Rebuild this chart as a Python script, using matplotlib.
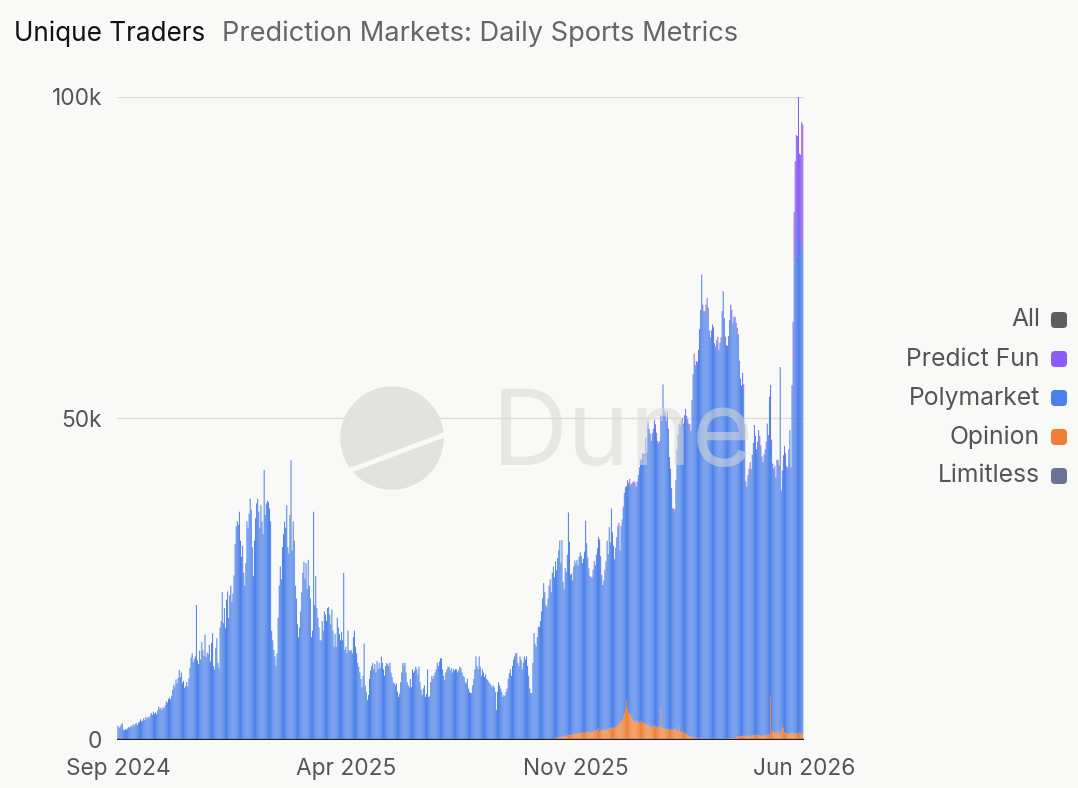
import pandas as pd
import matplotlib
matplotlib.use("Agg")
import matplotlib.pyplot as plt
import matplotlib.dates as mdates
from matplotlib.patches import Circle, FancyBboxPatch
from matplotlib.lines import Line2D

plt.rcParams['font.family'] = ['Inter', 'DejaVu Sans']

START = "2024-09-01"

# daily unique traders in thousands, one row per week (Sun..Sat)
polymarket_k = [
    2.2, 1.9, 2.0, 2.4, 2.6, 1.6, 1.5,
    1.7, 1.6, 1.8, 2.0, 1.9, 2.2, 2.1,
    2.4, 2.2, 2.5, 2.6, 2.3, 2.7, 2.8,
    3.2, 2.9, 3.0, 3.4, 3.1, 3.6, 3.3,
    3.6, 3.4, 3.8, 4.2, 3.9, 4.4, 4.1,
    4.3, 4.0, 4.6, 5.2, 4.8, 5.0, 4.7,
    5.1, 4.9, 5.4, 6.0, 5.8, 6.4, 6.6,
    6.3, 6.9, 7.8, 8.6, 8.2, 9.4, 8.8,
    9.6, 10.9, 9.8, 10.5, 8.9, 9.2, 8.1,
    8.4, 9.0, 8.3, 9.6, 11.2, 12.8, 13.5,
    12.1, 12.6, 13.0, 21.0, 12.4, 11.8, 13.9,
    12.5, 15.2, 14.0, 13.1, 16.4, 12.9, 13.6,
    13.4, 14.8, 12.2, 15.1, 16.6, 11.5, 11.0,
    14.3, 15.8, 12.0, 11.2, 17.5, 18.5, 23.0,
    18.2, 20.5, 17.4, 21.8, 23.1, 19.0, 22.5,
    24.0, 21.5, 22.8, 25.6, 30.5, 33.2, 34.0,
    33.5, 35.5, 31.0, 28.5, 30.2, 26.0, 24.0,
    27.5, 34.0, 33.0, 35.2, 37.5, 35.8, 30.0,
    25.5, 31.0, 34.5, 36.8, 37.5, 35.5, 33.0,
    36.5, 34.0, 32.0, 42.0, 35.0, 36.8, 37.2,
    37.0, 36.0, 34.0, 17.0, 15.5, 14.0, 13.0,
    11.5, 13.5, 19.0, 24.0, 27.0, 25.0, 30.0,
    32.0, 34.0, 33.0, 36.5, 30.0, 29.0, 35.0,
    43.5, 29.5, 34.0, 31.0, 24.0, 22.0, 18.0,
    16.0, 17.5, 20.0, 23.0, 26.0, 27.7, 25.0,
    27.5, 23.5, 28.0, 24.0, 22.0, 16.0, 17.0,
    35.5, 21.0, 25.5, 20.5, 19.0, 17.5, 15.5,
    15.5, 18.5, 17.0, 20.0, 19.5, 18.5, 20.5,
    20.7, 19.5, 18.0, 20.3, 17.0, 14.5, 16.5,
    14.5, 19.0, 17.5, 16.5, 15.5, 16.8, 15.5,
    26.0, 14.0, 14.5, 13.5, 17.0, 14.0, 13.8,
    14.0, 13.5, 16.0, 17.0, 14.5, 13.5, 12.0,
    11.4, 10.5, 9.5, 8.2, 10.0, 15.0, 8.5,
    7.5, 6.2, 7.0, 9.5, 10.8, 11.5, 12.0,
    11.0, 11.8, 10.5, 12.3, 11.0, 12.0, 11.2,
    13.0, 12.0, 11.0, 10.0, 11.5, 12.0, 11.8,
    11.5, 12.0, 10.5, 9.8, 9.0, 8.8, 8.5,
    8.8, 7.5, 6.7, 7.2, 9.0, 10.5, 12.0,
    11.5, 12.0, 10.5, 9.0, 8.5, 8.2, 9.5,
    8.2, 11.0, 10.5, 10.8, 11.4, 11.0, 10.2,
    11.4, 9.0, 7.8, 7.0, 8.0, 8.5, 6.7,
    7.2, 11.0, 6.7, 6.8, 9.0, 10.0, 9.5,
    10.0, 10.5, 11.0, 12.0, 11.5, 12.2, 12.7,
    12.7, 11.0, 10.0, 9.3, 10.5, 11.0, 11.4,
    11.4, 10.8, 11.2, 10.5, 11.0, 10.8, 11.0,
    11.0, 10.5, 10.8, 11.4, 11.2, 10.5, 10.0,
    9.8, 9.0, 8.8, 9.5, 8.0, 7.5, 7.3,
    7.3, 8.5, 9.5, 11.0, 13.0, 11.5, 11.0,
    13.0, 11.4, 10.0, 11.0, 10.5, 9.8, 10.2,
    9.5, 9.3, 9.0, 8.8, 8.5, 8.2, 8.5,
    8.2, 7.5, 4.7, 7.5, 9.0, 8.5, 8.0,
    7.5, 6.7, 7.0, 6.8, 7.5, 8.0, 9.5,
    10.4, 11.0, 10.0, 11.5, 12.5, 13.0, 13.5,
    13.5, 12.0, 11.5, 13.0, 12.5, 11.0, 12.0,
    13.0, 12.5, 13.0, 11.5, 10.0, 8.0, 7.3,
    7.3, 12.0, 16.6, 15.0, 14.5, 16.0, 17.6,
    17.6, 18.5, 20.0, 22.0, 24.4, 23.0, 21.0,
    20.7, 22.0, 24.0, 25.0, 23.0, 26.0, 27.0,
    25.0, 27.5, 26.0, 28.0, 29.0, 30.6, 27.0,
    30.6, 24.0, 23.0, 26.0, 25.5, 28.0, 34.7,
    30.0, 25.0, 25.0, 24.0, 26.0, 27.0, 26.5,
    27.0, 26.0, 27.5, 28.0, 27.5, 26.5, 27.0,
    28.0, 32.7, 29.0, 27.0, 25.0, 24.0, 23.8,
    23.8, 25.0, 26.0, 25.5, 27.0, 28.0, 29.5,
    29.5, 27.0, 24.0, 22.2, 23.0, 24.5, 26.0,
    29.0, 27.0, 31.0, 28.5, 34.0, 30.0, 28.0,
    26.0, 27.5, 29.0, 30.5, 31.0, 26.4, 30.0,
    31.0, 32.5, 34.0, 34.0, 33.0, 35.0, 35.5,
    36.0, 35.5, 36.0, 36.5, 37.0, 36.8, 36.0,
    36.8, 38.0, 39.5, 40.5, 40.0, 41.5, 41.5,
    41.5, 44.0, 42.0, 46.5, 45.5, 45.0, 44.0,
    45.0, 46.0, 47.0, 46.5, 45.5, 44.0, 43.5,
    44.0, 45.0, 47.0, 53.0, 49.0, 48.5, 47.5,
    49.0, 46.0, 42.0, 40.0, 37.0, 34.0, 33.7,
    33.7, 38.0, 43.0, 45.6, 46.5, 47.0, 48.0,
    48.0, 47.5, 49.0, 49.8, 49.0, 48.5, 48.0,
    48.0, 47.0, 52.0, 56.0, 59.0, 57.5, 58.0,
    58.0, 60.0, 63.0, 66.0, 71.5, 67.0, 66.0,
    66.0, 67.0, 68.0, 66.5, 63.0, 62.0, 63.0,
    64.0, 63.5, 61.0, 60.6, 61.5, 62.0, 60.0,
    61.0, 62.0, 66.0, 69.0, 65.0, 62.0, 60.6,
    60.6, 62.0, 64.5, 67.0, 66.0, 64.0, 65.0,
    65.0, 64.0, 63.0, 62.0, 58.0, 55.0, 54.0,
    56.0, 54.0, 48.0, 39.0, 38.0, 40.0, 41.0,
    42.0, 41.0, 43.0, 45.0, 47.7, 46.0, 44.0,
    45.0, 47.0, 46.0, 44.5, 43.0, 42.0, 43.0,
    44.0, 45.0, 48.0, 46.0, 52.0, 48.0, 45.0,
    41.0, 40.5, 41.0, 39.0, 42.0, 41.5, 41.0,
    56.5, 36.8, 39.0, 42.0, 44.0, 43.0, 41.0,
    41.0, 44.0, 46.7, 41.0, 52.0, 58.0, 73.0,
    74.0, 76.0, 77.0, 80.0, 74.0, 76.0, 77.0,
    75.0,
]

# Opinion starts trading in late Oct 2025 (first 406 days are zero)
opinion_k = [0.0] * 406 + [
    0.3, 0.3, 0.4, 0.3, 0.5, 0.4, 0.5,
    0.5, 0.6, 0.5, 0.7, 0.6, 0.8, 0.7,
    0.8, 0.7, 0.9, 0.8, 1.0, 0.9, 0.9,
    1.0, 1.1, 1.0, 1.2, 1.1, 1.0, 1.2,
    1.1, 1.2, 1.3, 1.2, 1.4, 1.3, 1.2,
    1.2, 1.3, 1.5, 1.4, 1.6, 1.5, 1.8,
    1.4, 1.3, 1.5, 1.6, 1.5, 1.7, 1.6,
    1.7, 1.6, 1.8, 1.9, 1.8, 2.0, 1.9,
    1.8, 2.0, 2.2, 2.5, 2.4, 2.8, 3.0,
    3.0, 3.5, 4.0, 5.0, 6.2, 5.0, 4.2,
    4.2, 3.9, 3.5, 3.2, 3.0, 2.8, 3.0,
    3.0, 2.8, 2.6, 2.8, 3.0, 2.7, 2.6,
    2.6, 2.5, 2.3, 2.6, 2.4, 2.2, 2.0,
    2.2, 2.0, 2.3, 2.1, 1.9, 2.0, 2.2,
    2.0, 5.0, 2.2, 1.8, 1.7, 1.9, 1.6,
    1.6, 1.8, 1.5, 1.7, 1.6, 1.5, 1.8,
    1.6, 1.9, 1.5, 1.4, 2.2, 1.3, 1.2,
    1.5, 1.2, 1.0, 1.1, 0.9, 0.8, 0.7,
    0.6, 0.5, 0.4, 0.4, 0.5, 0.3, 0.3,
    0.3, 0.2, 0.3, 0.4, 0.3, 0.2, 0.2,
    0.2, 0.1, 0.2, 0.1, 0.2, 0.1, 0.1,
    0.1, 0.2, 0.1, 0.1, 0.2, 0.1, 0.2,
    0.2, 0.1, 0.2, 0.2, 0.1, 0.2, 0.2,
    0.2, 0.2, 0.3, 0.2, 0.3, 0.3, 0.3,
    0.3, 0.4, 0.5, 0.6, 0.5, 0.6, 0.6,
    0.6, 0.7, 0.6, 0.7, 0.8, 0.7, 0.6,
    0.7, 0.6, 0.8, 0.7, 0.7, 0.8, 0.7,
    0.8, 0.7, 0.8, 0.7, 0.6, 0.7, 0.8,
    0.7, 0.8, 0.7, 0.9, 0.8, 6.7, 1.2,
    1.5, 1.2, 1.0, 1.3, 1.1, 1.4, 1.2,
    1.0, 1.5, 2.3, 1.8, 1.2, 1.0, 1.1,
    1.0, 0.9, 1.1, 1.0, 1.2, 1.0, 1.1,
    1.0, 1.1, 0.9, 1.0, 1.2, 1.0, 1.1,
    1.0,
]

# Predict Fun: thin sliver from Nov 2025 (first 434 days are zero), big jump in the last week
predict_fun_k = [0.0] * 434 + [
    0.2, 0.2, 0.3, 0.2, 0.3, 0.2, 0.3,
    0.3, 0.2, 0.3, 0.3, 0.2, 0.3, 0.3,
    0.3, 0.3, 0.2, 0.3, 0.3, 0.3, 0.2,
    0.3, 0.3, 0.3, 0.3, 0.2, 0.3, 0.3,
    0.3, 0.4, 0.3, 0.3, 0.4, 0.3, 0.3,
    0.3, 0.3, 0.4, 0.3, 0.3, 0.4, 0.3,
    0.4, 0.3, 0.4, 0.4, 0.3, 0.4, 0.4,
    0.4, 0.4, 0.3, 0.4, 0.5, 0.4, 0.4,
    0.4, 0.5, 0.4, 0.4, 0.5, 0.4, 0.5,
    0.5, 0.4, 0.5, 0.5, 0.4, 0.5, 0.5,
    0.5, 0.5, 0.4, 0.5, 0.6, 0.5, 0.5,
    0.5, 0.6, 0.5, 0.5, 0.6, 0.5, 0.5,
    0.5, 0.5, 0.6, 0.5, 0.5, 0.6, 0.5,
    0.6, 0.5, 0.5, 0.6, 0.5, 0.6, 0.5,
    0.5, 0.6, 0.5, 0.5, 0.6, 0.5, 0.6,
    0.5, 0.5, 0.6, 0.5, 0.6, 0.5, 0.5,
    0.5, 0.6, 0.5, 0.6, 0.5, 0.5, 0.6,
    0.5, 0.5, 0.6, 0.5, 0.5, 0.6, 0.5,
    0.6, 0.5, 0.5, 0.6, 0.5, 0.5, 0.6,
    0.5, 0.6, 0.5, 0.5, 0.6, 0.5, 0.5,
    0.5, 0.5, 0.6, 0.5, 0.5, 0.6, 0.5,
    0.5, 0.6, 0.5, 0.5, 0.6, 0.5, 0.6,
    0.5, 0.5, 0.6, 0.5, 0.6, 0.5, 0.5,
    0.6, 0.5, 0.5, 0.6, 0.5, 0.5, 0.6,
    0.5, 0.6, 0.5, 0.5, 0.6, 0.5, 0.5,
    0.5, 0.5, 0.6, 0.5, 0.5, 0.6, 0.5,
    0.5, 0.5, 0.6, 0.5, 0.5, 0.6, 0.5,
    0.3, 0.3, 0.4, 0.4, 2.0, 6.0, 8.0,
    15.0, 17.0, 16.0, 20.0, 16.0, 14.0, 18.0,
    19.7,
]

limitless_k = [0.0] * len(polymarket_k)

series = ["Limitless", "Opinion", "Polymarket", "Predict Fun"]
values = [limitless_k, opinion_k, polymarket_k, predict_fun_k]
colors = {"All": "#5e5e5e", "Predict Fun": "#8b5cf6", "Polymarket": "#4a80ea",
          "Opinion": "#f07f35", "Limitless": "#6b7394"}
legend_order = ["All", "Predict Fun", "Polymarket", "Opinion", "Limitless"]

dates = pd.date_range(START, periods=len(polymarket_k), freq="D")
df = pd.DataFrame({name: [v * 1000 for v in vals] for name, vals in zip(series, values)}, index=dates)

BG = "#f9f9f7"
W, H = 1078, 788
fig = plt.figure(figsize=(W / 100, H / 100), dpi=100, facecolor=BG)
ax = fig.add_axes([117.4 / W, 48 / H, 687 / W, 643 / H], facecolor=BG)

x = mdates.date2num(df.index.to_pydatetime())
bottom = [0.0] * len(df)
for name in series:
    bars = ax.bar(x, df[name].values, width=0.93, bottom=bottom, color=colors[name], linewidth=0, zorder=2)
    for b in bars:
        b.set_snap(False)
    bottom = [b + v for b, v in zip(bottom, df[name].values)]

ax.set_xlim(mdates.date2num(pd.Timestamp(START)) - 0.5, mdates.date2num(pd.Timestamp("2026-06-01")) + 0.5)
ax.set_ylim(0, 100000)

tick_dates = ["2024-09-01", "2025-04-01", "2025-11-01", "2026-06-01"]
ax.set_xticks([mdates.date2num(pd.Timestamp(d)) for d in tick_dates])
ax.set_xticklabels(["Sep 2024", "Apr 2025", "Nov 2025", "Jun 2026"])
ax.set_yticks([0, 50000, 100000])
ax.set_yticklabels(["0", "50k", "100k"])
ax.tick_params(axis="both", length=0, labelsize=16.3, colors="#555555")
ax.tick_params(axis="x", pad=13)
ax.tick_params(axis="y", pad=11)

for s in ax.spines.values():
    s.set_visible(False)
ax.yaxis.grid(True, color="#dddddb", lw=1)
ax.set_axisbelow(True)
ax.axhline(0, color="#1d1d2b", lw=1.6, zorder=4)

# title
fig.text(14 / W, 1 - 34 / H, "Unique Traders", fontsize=18.8, color="#111111", va="center")
fig.text(222 / W, 1 - 34 / H, "Prediction Markets: Daily Sports Metrics", fontsize=19.6, color="#666666", va="center")

# watermark
fig.add_artist(Circle((3.92, 3.50), 0.51, transform=fig.dpi_scale_trans, color="#e2e2e0", zorder=5))
fig.add_artist(Line2D([3.51, 4.44], [3.18, 3.53], transform=fig.dpi_scale_trans, color=BG, lw=3.5, zorder=6))
fig.text(492 / W, 1 - 438 / H, "Dune", fontsize=76, color="#d9d9d7", alpha=0.55, va="center", ha="left", zorder=6)

# legend
for i, name in enumerate(legend_order):
    yc = 320 + 39 * i
    fig.text(1040 / W, 1 - yc / H, name, fontsize=17.8, color="#555555", ha="right", va="center")
    fig.add_artist(FancyBboxPatch((10.51, (H - yc) / 100 - 0.08), 0.16, 0.16,
                                  boxstyle="round,pad=0,rounding_size=0.04",
                                  transform=fig.dpi_scale_trans, color=colors[name], lw=0))

fig.savefig("out.png", dpi=100, facecolor=BG)
